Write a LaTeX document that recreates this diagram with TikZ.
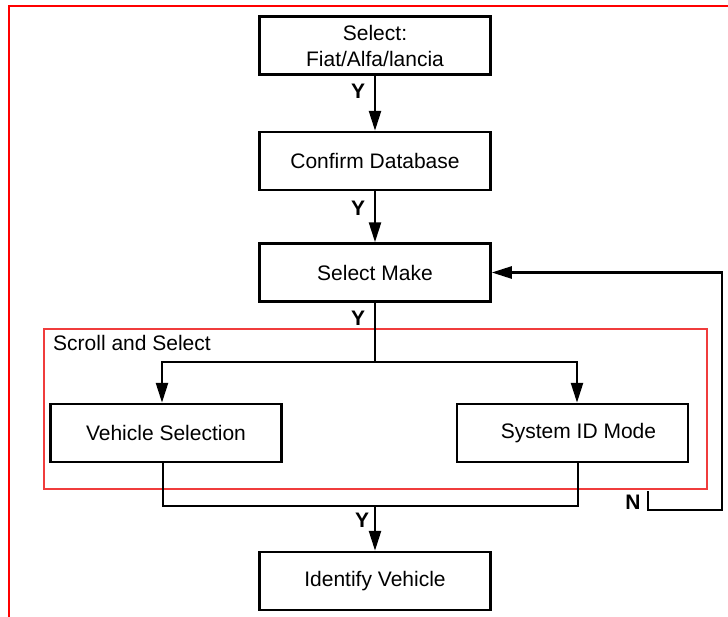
\documentclass[tikz,border=0pt]{standalone}
\usepackage{fontspec}
\setmainfont{Liberation Sans}
\usetikzlibrary{arrows.meta}
\definecolor{outerred}{RGB}{255,0,0}
\definecolor{innerred}{RGB}{240,60,60}
\tikzset{
  box/.style={draw=black, line width=2.5pt, minimum width=231pt, minimum height=58pt,
    inner sep=0pt, align=center, font=\fontsize{21}{26}\selectfont},
  conn/.style={draw=black, line width=2.5pt},
  arr/.style={conn, -{Triangle[length=20pt,width=12pt]}},
  yn/.style={font=\fontsize{21}{24}\selectfont\bfseries, inner sep=0pt},
  lbl/.style={font=\fontsize{21}{24}\selectfont, inner sep=0pt, anchor=west}
}
\begin{document}
\begin{tikzpicture}[x=1pt,y=-1pt]
\useasboundingbox (0,0) rectangle (728,616);
\clip (0,0) rectangle (728,616);
\fill[white] (0,0) rectangle (728,616);
% frames
\draw[outerred, line width=2.5pt] (9,6) rectangle (780,680);
\draw[innerred, line width=1.2pt] (44,329) rectangle (707,489);
\node[lbl] (scroll) at (53,343) {Scroll and Select};
% boxes
\node[box] (top) at (375,45.5) {Select:\\Fiat/Alfa/lancia};
\node[box] (confirm) at (375,161) {Confirm Database};
\node[box] (make) at (375,272.5) {Select Make};
\node[box] (veh) at (166,433) {Vehicle Selection};
\node[box] (sys) at (572.5,433) {\hspace*{12pt}System ID Mode};
\node[box] (ident) at (375,581) {Identify Vehicle};
% coordinates
\coordinate (br) at (375,362);
\coordinate (mg) at (375,506);
\coordinate (nst) at (648,491);
\coordinate (nrc) at (722,510);
% connectors
\draw[arr] (top.south) -- (confirm.north);
\draw[arr] (confirm.south) -- (make.north);
\draw[conn] (make.south) -- (br);
\draw[arr] (br) -| ([xshift=-4pt]veh.north);
\draw[arr] (br) -| ([xshift=4.5pt]sys.north);
\draw[conn] ([xshift=-3pt]veh.south) |- (mg) -| ([xshift=5.5pt]sys.south);
\draw[arr] (mg) -- (ident.north);
\draw[arr] (nst) |- (nrc) |- (make.east);
% labels
\node[yn] (y1) at (358,91) {Y};
\node[yn] (y2) at (358,208) {Y};
\node[yn] (y3) at (358,318) {Y};
\node[yn] (y4) at (362,520) {Y};
\node[yn] (n1) at (633,502) {N};
\end{tikzpicture}
\end{document}
